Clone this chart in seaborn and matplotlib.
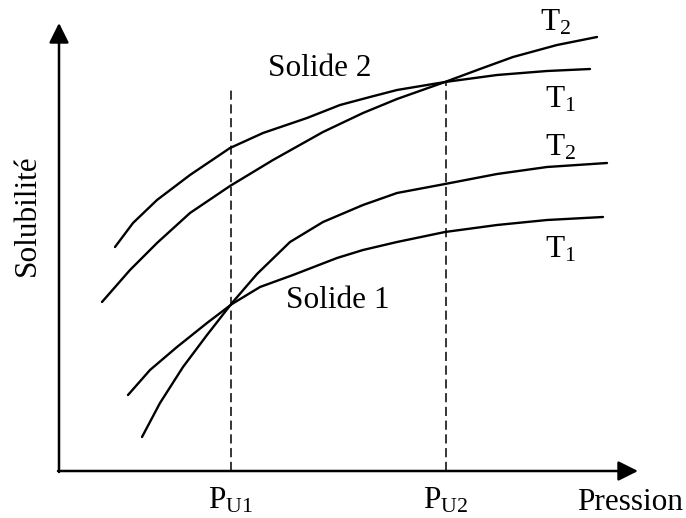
import pandas as pd
import numpy as np
import seaborn as sns
import matplotlib.pyplot as plt

# Curves (pression, solubilite in arbitrary units)
s2_t1_x = [115, 133, 157, 190, 230, 263, 307, 340, 370, 397, 445, 497, 547, 590]
s2_t1_y = [271, 295, 318, 343, 370, 385, 400, 413, 421, 428, 436, 443, 447, 449]
s2_t2_x = [102, 130, 157, 190, 230, 273, 323, 363, 397, 445, 480, 513, 557, 597]
s2_t2_y = [216, 248, 275, 305, 332, 358, 386, 405, 419, 436, 449, 461, 473, 481]
s1_t2_x = [142, 160, 183, 207, 232, 257, 290, 323, 363, 397, 445, 497, 547, 607]
s1_t2_y = [81, 115, 151, 183, 215, 244, 276, 296, 313, 325, 334, 344, 351, 355]
s1_t1_x = [128, 150, 177, 207, 232, 260, 293, 337, 363, 397, 445, 497, 547, 603]
s1_t1_y = [123, 148, 171, 195, 214, 231, 243, 260, 268, 276, 286, 293, 298, 301]

pu_x = [231, 446]
pu_top = [431, 435]
pu_labels = ['P$_{\\mathrm{U1}}$', 'P$_{\\mathrm{U2}}$']

origin = (59, 47)
x_end = 638
y_end = 495

sns.set_style('white')
plt.rcParams['font.family'] = ['Liberation Serif', 'DejaVu Serif']
plt.rcParams['text.color'] = 'black'
plt.rcParams['mathtext.fontset'] = 'custom'
plt.rcParams['mathtext.rm'] = 'Liberation Serif'
plt.rcParams['mathtext.default'] = 'rm'

curves = pd.concat([
    pd.DataFrame({'p': s2_t1_x, 's': s2_t1_y, 'curve': 's2_t1'}),
    pd.DataFrame({'p': s2_t2_x, 's': s2_t2_y, 'curve': 's2_t2'}),
    pd.DataFrame({'p': s1_t2_x, 's': s1_t2_y, 'curve': 's1_t2'}),
    pd.DataFrame({'p': s1_t1_x, 's': s1_t1_y, 'curve': 's1_t1'}),
])

fig = plt.figure(figsize=(6.86, 5.18), dpi=100)
ax = fig.add_axes([0, 0, 1, 1])

sns.lineplot(data=curves, x='p', y='s', hue='curve', units='curve', estimator=None,
             sort=False, palette=['black'] * 4, linewidth=1.7, legend=False, ax=ax)

# dashed lines at the inversion pressures
ax.vlines(pu_x, origin[1], pu_top, colors='black', linestyles=(0, (6, 3)), linewidth=1.1)

# axes with arrows
arrow = dict(arrowstyle='-|>', color='black', lw=1.8, mutation_scale=30, shrinkA=0, shrinkB=0)
ax.annotate('', xy=(x_end, origin[1]), xytext=(origin[0] - 1, origin[1]), arrowprops=arrow)
ax.annotate('', xy=(origin[0], y_end), xytext=(origin[0], origin[1] - 1), arrowprops=arrow)

fs = 22.5
ax.text(320, 449, 'Solide 2', fontsize=fs, ha='center', va='center')
ax.text(338, 217, 'Solide 1', fontsize=fs, ha='center', va='center')
ax.text(540, 495, 'T$_2$', fontsize=fs, ha='left', va='center')
ax.text(545, 418, 'T$_1$', fontsize=fs, ha='left', va='center')
ax.text(545, 370, 'T$_2$', fontsize=fs, ha='left', va='center')
ax.text(545, 268, 'T$_1$', fontsize=fs, ha='left', va='center')
for x, lab in zip(pu_x, pu_labels):
    ax.text(x, 17, lab, fontsize=fs, ha='center', va='center')
ax.text(630, 15, 'Pression', fontsize=fs, ha='center', va='center')
ax.text(27, 303, 'Solubilité', fontsize=fs, ha='center', va='center', rotation=90)

ax.set_xlim(0, 686)
ax.set_ylim(0, 518)
ax.axis('off')

plt.savefig('out.png', dpi=100)
